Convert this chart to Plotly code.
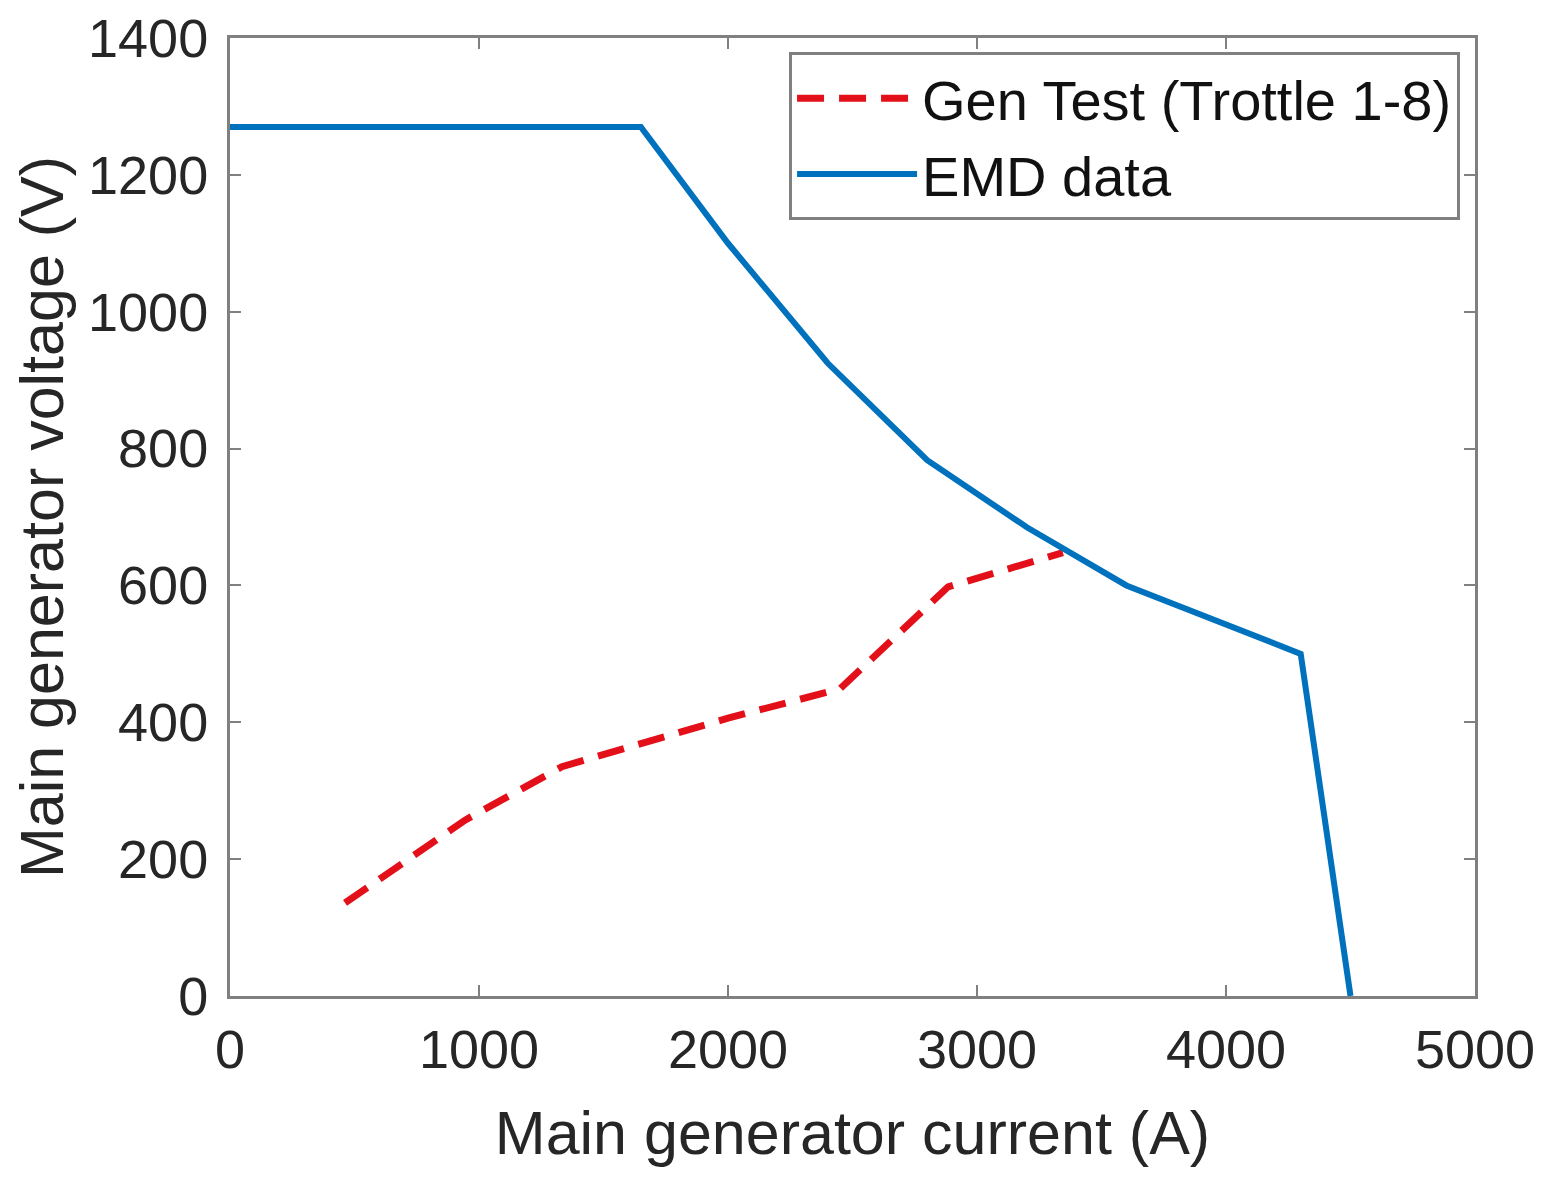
import plotly.graph_objects as go

# EMD data (blue solid)
emd_current = [0, 1650, 2000, 2400, 2800, 3200, 3600, 4300, 4500]
emd_voltage = [1270, 1270, 1100, 925, 783, 685, 600, 500, 0]

# Generator test, throttle notches (red dashed)
gen_current = [462, 944, 1333, 2000, 2450, 2884, 3345]
gen_voltage = [136, 257, 335, 406, 449, 598, 648]

x_ticks = [0, 1000, 2000, 3000, 4000, 5000]
y_ticks = [0, 200, 400, 600, 800, 1000, 1200, 1400]

FONT = "Liberation Sans, Arial, sans-serif"
TXT = "#262626"
AX = "#808080"

fig = go.Figure()
fig.add_trace(go.Scatter(
    x=gen_current, y=gen_voltage, mode="lines",
    name="Gen Test (Trottle 1-8)",
    line=dict(color="#E3101A", width=7, dash="27px,15px"),
))
fig.add_trace(go.Scatter(
    x=emd_current, y=emd_voltage, mode="lines",
    name="EMD data",
    line=dict(color="#0072BD", width=6),
))

axis_common = dict(
    showline=True, linecolor=AX, linewidth=3, mirror="allticks",
    ticks="inside", ticklen=11, tickwidth=2, tickcolor=AX,
    showgrid=False, zeroline=False, ticklabeloverflow="allow",
    automargin=False,
    tickfont=dict(family=FONT, size=54, color=TXT),
)

fig.update_layout(
    width=1545, height=1192,
    margin=dict(l=222, r=78, t=30, b=204),
    paper_bgcolor="white", plot_bgcolor="white",
    font=dict(family=FONT, color=TXT),
    xaxis=dict(range=[0, 5000], tickvals=x_ticks, ticklabelstandoff=4,
               title=dict(text="Main generator current (A)",
                          font=dict(family=FONT, size=61, color=TXT), standoff=34),
               **axis_common),
    yaxis=dict(range=[0, 1400], tickvals=y_ticks, ticklabelstandoff=8,
               title=dict(text="Main generator voltage (V)",
                          font=dict(family=FONT, size=61, color=TXT), standoff=12),
               **axis_common),
    legend=dict(
        x=0.988, y=0.985, xanchor="right", yanchor="top",
        bgcolor="white", bordercolor=AX, borderwidth=3,
        font=dict(family=FONT, size=56, color="#111111"),
        itemwidth=120, tracegroupgap=0,
    ),
    showlegend=True,
)

fig.write_html("out.html")
